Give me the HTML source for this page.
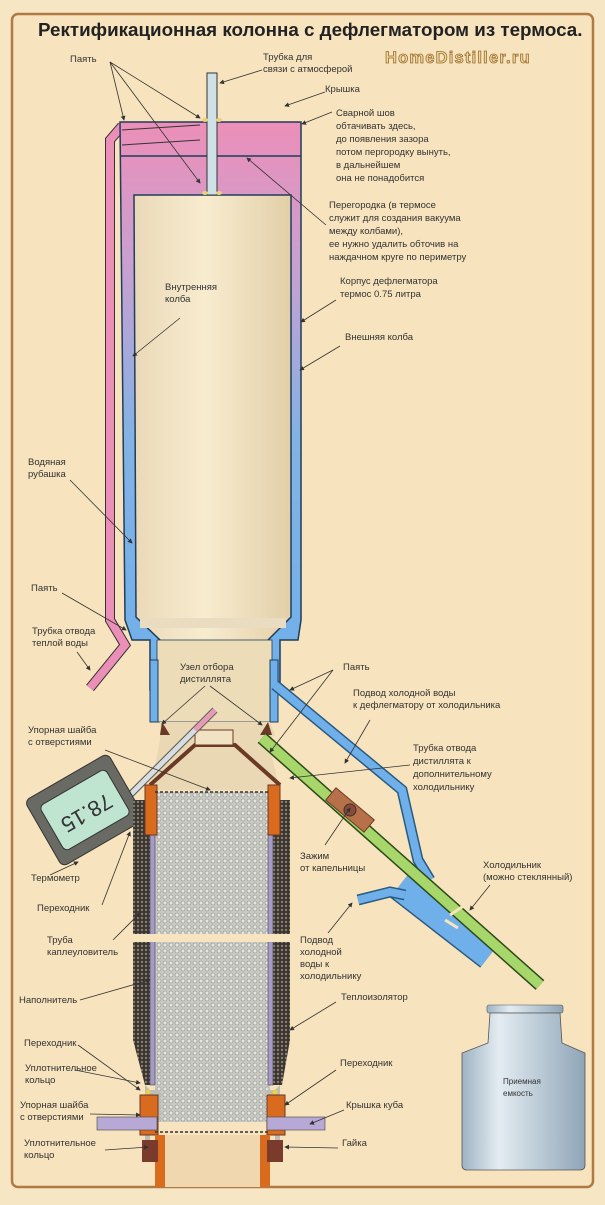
<!DOCTYPE html>
<html><head><meta charset="utf-8"><style>
body{margin:0;width:605px;height:1200px;overflow:hidden;background:#f6e6c4}
svg text{font-family:"Liberation Sans",sans-serif;font-size:9.5px;fill:#333}
</style></head><body>
<svg width="605" height="1200" viewBox="0 0 605 1200" xmlns="http://www.w3.org/2000/svg">
<defs>
<linearGradient id="body" x1="0" y1="0" x2="0" y2="1"><stop offset="0" stop-color="#ec8fb8"/><stop offset="0.25" stop-color="#c9a0d0"/><stop offset="0.55" stop-color="#84b2e4"/><stop offset="1" stop-color="#6fb0ea"/></linearGradient>
<linearGradient id="inner" x1="0" y1="0" x2="1" y2="0"><stop offset="0" stop-color="#ead9b8"/><stop offset="0.45" stop-color="#f8eccf"/><stop offset="1" stop-color="#e2cfa8"/></linearGradient>
<linearGradient id="can" x1="0" y1="0" x2="1" y2="0"><stop offset="0" stop-color="#9fb3c3"/><stop offset="0.3" stop-color="#e3ecf2"/><stop offset="1" stop-color="#8fa5b7"/></linearGradient>
<pattern id="pack" width="6" height="6" patternUnits="userSpaceOnUse"><rect width="6" height="6" fill="#c9c9c3"/><circle cx="3" cy="3" r="2" fill="#e6e6e0" stroke="#8d8d88" stroke-width="0.6"/></pattern>
<pattern id="ins" width="4" height="4" patternUnits="userSpaceOnUse"><rect width="4" height="4" fill="#3a3530"/><circle cx="2" cy="2" r="1.2" fill="#8a7e6e"/></pattern>
<marker id="ar" markerWidth="6" markerHeight="6" refX="5" refY="3" orient="auto"><path d="M0,0 L6,3 L0,6z" fill="#333"/></marker>
</defs>
<rect x="12" y="14" width="581" height="1173" rx="6" fill="#f7e3bd" stroke="#b07a45" stroke-width="2.5"/>
<text x="38" y="36" style="font-size:18.8px;font-weight:bold;fill:#222">Ректификационная колонна с дефлегматором из термоса.</text>
<text x="385" y="63" style="font-size:16.5px;font-weight:bold;fill:#f0d79a;stroke:#9a6e34;stroke-width:0.8;letter-spacing:1.2px">HomeDistiller.ru</text>

<path d="M122,126 L110,140 L110,620 L125,645 L90,688" fill="none" stroke="#333" stroke-width="10"/>
<path d="M122,126 L110,140 L110,620 L125,645 L90,688" fill="none" stroke="#ec8fb8" stroke-width="8"/>
<path d="M120,122 L301,122 L301,620 L298,640 L280,640 L280,690 L150,690 L150,640 L132,640 L125,620 Z" fill="url(#body)" stroke="#1f3d5c" stroke-width="1.5"/>
<line x1="120" y1="156" x2="301" y2="156" stroke="#1f3d5c" stroke-width="1.5"/>
<path d="M122,130 L200,125 M122,145 L200,140" stroke="#333" stroke-width="1"/>
<path d="M134,195 L291,195 L291,617 L268,640 L268,660 L160,660 L160,640 L136,617 Z" fill="url(#inner)" stroke="#1f3d5c" stroke-width="1.5"/>
<rect x="140" y="618" width="146" height="10" fill="#e9dcc0"/>
<rect x="157" y="640" width="115" height="82" fill="#eddcb8"/>
<rect x="157" y="640" width="115" height="82" fill="none" stroke="#1f3d5c" stroke-width="0.8"/>
<rect x="150" y="660" width="8" height="62" fill="#6fb0ea" stroke="#1f3d5c"/>
<rect x="270" y="660" width="8" height="62" fill="#6fb0ea" stroke="#1f3d5c"/>
<rect x="207" y="73" width="10" height="122" fill="#cfe0e6" stroke="#333" stroke-width="1"/>
<ellipse cx="205" cy="120" rx="3" ry="2" fill="#e9d27a"/><ellipse cx="219" cy="120" rx="3" ry="2" fill="#e9d27a"/>
<ellipse cx="205" cy="193" rx="3" ry="2" fill="#e9d27a"/><ellipse cx="219" cy="193" rx="3" ry="2" fill="#e9d27a"/>
<path d="M160,722 L270,722 L275,735 L268,740 L280,790 L150,790 L160,740 Z" fill="#ead8b5"/>
<path d="M150,785 L195,745 L235,745 L280,785" fill="none" stroke="#6b3a24" stroke-width="4"/>
<rect x="195" y="730" width="38" height="15" fill="#f0e2c3" stroke="#6b3a24" stroke-width="1"/>
<path d="M162,722 L170,735 L160,735Z M268,722 L260,735 L272,735Z" fill="#6b3a24"/>
<line x1="110" y1="815" x2="215" y2="710" stroke="#555" stroke-width="7"/>
<line x1="110" y1="815" x2="215" y2="710" stroke="#d8dde0" stroke-width="5"/>
<line x1="195" y1="730" x2="215" y2="710" stroke="#e79ab4" stroke-width="5"/>
<g transform="translate(85,810) rotate(-30)">
<rect x="-48" y="-38" width="96" height="76" rx="6" fill="#6a6a64" stroke="#333"/>
<rect x="-38" y="-26" width="76" height="52" rx="5" fill="#bfe4cf" stroke="#333"/>
<text x="0" y="8" transform="rotate(180 0 2)" text-anchor="middle" style="font-size:22px;fill:#333">78.15</text>
</g>
<rect x="133" y="800" width="25" height="240" fill="url(#ins)"/>
<rect x="270" y="800" width="20" height="240" fill="url(#ins)"/>
<path d="M133,1040 L145,1085 L158,1085 L158,1040Z M270,1040 L270,1085 L282,1085 L290,1040Z" fill="url(#ins)"/>
<rect x="155" y="792" width="115" height="330" fill="url(#pack)"/>
<rect x="150" y="795" width="5" height="290" fill="#a59bc9" stroke="#444" stroke-width="0.6"/>
<rect x="268" y="795" width="5" height="290" fill="#a59bc9" stroke="#444" stroke-width="0.6"/>
<rect x="130" y="934" width="165" height="8" fill="#f7e3bd"/>
<rect x="145" y="785" width="12" height="50" fill="#d96b1f" stroke="#6b3a24"/>
<rect x="268" y="785" width="12" height="50" fill="#d96b1f" stroke="#6b3a24"/>
<line x1="155" y1="792" x2="270" y2="792" stroke="#333" stroke-dasharray="3,2" stroke-width="1.5"/>
<path d="M145,1085 L150,1090 L160,1090 L160,1120 L150,1120 L150,1140 L145,1140Z" fill="#bdbdb3"/>
<path d="M280,1085 L275,1090 L268,1090 L268,1120 L275,1120 L275,1140 L280,1140Z" fill="#bdbdb3"/>
<rect x="140" y="1095" width="18" height="40" fill="#d96b1f" stroke="#6b3a24"/>
<rect x="267" y="1095" width="18" height="40" fill="#d96b1f" stroke="#6b3a24"/>
<rect x="155" y="1135" width="10" height="52" fill="#d96b1f"/>
<rect x="260" y="1135" width="10" height="52" fill="#d96b1f"/>
<rect x="165" y="1135" width="95" height="52" fill="#f0d7b0"/>
<line x1="155" y1="1132" x2="270" y2="1132" stroke="#333" stroke-dasharray="3,2" stroke-width="1.5"/>
<rect x="97" y="1117" width="60" height="13" fill="#b7a8d6" stroke="#444" stroke-width="0.6"/>
<rect x="267" y="1117" width="58" height="13" fill="#b7a8d6" stroke="#444" stroke-width="0.6"/>
<rect x="142" y="1140" width="16" height="22" fill="#7a3a2c"/>
<rect x="267" y="1140" width="16" height="22" fill="#7a3a2c"/>
<circle cx="148" cy="1092" r="2.5" fill="#e7d24a"/><circle cx="275" cy="1092" r="2.5" fill="#e7d24a"/>
<path d="M275,685 L402,790 L418,860 L430,880" fill="none" stroke="#2a5a80" stroke-width="11"/>
<path d="M275,685 L402,790 L418,860 L430,880" fill="none" stroke="#6fb0ea" stroke-width="8"/>
<path d="M400,885 L490,955" stroke="#2a5a80" stroke-width="32"/>
<path d="M400,885 L490,955" stroke="#6fb0ea" stroke-width="29"/>
<path d="M358,900 L390,892 L405,895" fill="none" stroke="#2a5a80" stroke-width="11"/>
<path d="M358,900 L390,892 L405,895" fill="none" stroke="#6fb0ea" stroke-width="8"/>
<path d="M262,738 L540,985" stroke="#2c4a1a" stroke-width="13"/>
<path d="M262,738 L540,985" stroke="#a7d66a" stroke-width="10"/>
<path d="M450,915 L465,905 M445,920 L458,928" stroke="#f7e3bd" stroke-width="3"/>
<g transform="translate(350,810) rotate(40)"><rect x="-25" y="-8" width="50" height="16" fill="#b7714a" stroke="#6b3a24"/><circle cx="0" cy="0" r="6" fill="#8a4a34" stroke="#333"/></g>
<rect x="487" y="1005" width="76" height="8" rx="2" fill="url(#can)" stroke="#555" stroke-width="0.6"/>
<path d="M490,1013 L560,1013 L562,1043 L585,1053 L585,1165 Q585,1170 580,1170 L467,1170 Q462,1170 462,1165 L462,1053 L488,1043Z" fill="url(#can)" stroke="#555" stroke-width="0.8"/>
<text x="503" y="1084" style="font-size:8px">Приемная</text><text x="503" y="1096" style="font-size:8px">емкость</text>

<g stroke="#333" stroke-width="0.8" fill="none" marker-end="url(#ar)">
<path d="M110,62 L124,120"/><path d="M110,62 L200,118"/><path d="M110,62 L200,183"/>
<path d="M262,70 L220,83"/><path d="M325,92 L285,106"/><path d="M332,112 L302,124"/>
<path d="M326,225 L247,158"/><path d="M336,300 L301,322"/><path d="M180,318 L133,356"/>
<path d="M340,346 L300,370"/><path d="M70,480 L132,543"/><path d="M62,593 L126,630"/>
<path d="M77,652 L90,670"/><path d="M205,686 L162,724"/><path d="M210,686 L262,725"/>
<path d="M333,670 L290,690"/><path d="M333,670 L270,752"/><path d="M370,720 L345,763"/>
<path d="M410,765 L290,778"/><path d="M105,750 L210,790"/><path d="M325,845 L350,808"/>
<path d="M490,885 L470,910"/><path d="M50,875 L78,862"/><path d="M102,905 L130,832"/>
<path d="M113,940 L140,913"/><path d="M328,933 L352,903"/><path d="M80,1000 L150,980"/>
<path d="M336,1002 L290,1030"/><path d="M78,1045 L140,1090"/><path d="M75,1070 L140,1083"/>
<path d="M336,1070 L285,1105"/><path d="M90,1114 L140,1115"/><path d="M344,1110 L310,1124"/>
<path d="M105,1150 L148,1147"/><path d="M338,1148 L285,1147"/>
</g>

<text x="70" y="62">Паять</text>
<text x="263" y="60">Трубка для</text><text x="263" y="72">связи с атмосферой</text>
<text x="325" y="92">Крышка</text>
<text x="336" y="116">Сварной шов</text><text x="336" y="129">обтачивать здесь,</text><text x="336" y="142">до появления зазора</text><text x="336" y="155">потом пергородку вынуть,</text><text x="336" y="168">в дальнейшем</text><text x="336" y="181">она не понадобится</text>
<text x="329" y="208">Перегородка (в термосе</text><text x="329" y="221">служит для создания вакуума</text><text x="329" y="234">между колбами),</text><text x="329" y="247">ее нужно удалить обточив на</text><text x="329" y="260">наждачном круге по периметру</text>
<text x="340" y="284">Корпус дефлегматора</text><text x="340" y="297">термос 0.75 литра</text>
<text x="165" y="290">Внутренняя</text><text x="165" y="302">колба</text>
<text x="345" y="340">Внешняя колба</text>
<text x="28" y="465">Водяная</text><text x="28" y="477">рубашка</text>
<text x="31" y="591">Паять</text>
<text x="32" y="634">Трубка отвода</text><text x="32" y="646">теплой воды</text>
<text x="180" y="670">Узел отбора</text><text x="180" y="682">дистиллята</text>
<text x="343" y="670">Паять</text>
<text x="353" y="696">Подвод холодной воды</text><text x="353" y="708">к дефлегматору от холодильника</text>
<text x="28" y="733">Упорная шайба</text><text x="28" y="745">с отверстиями</text>
<text x="413" y="751">Трубка отвода</text><text x="413" y="764">дистиллята к</text><text x="413" y="777">дополнительному</text><text x="413" y="790">холодильнику</text>
<text x="300" y="859">Зажим</text><text x="300" y="871">от капельницы</text>
<text x="483" y="868">Холодильник</text><text x="483" y="880">(можно стеклянный)</text>
<text x="31" y="881">Термометр</text>
<text x="37" y="911">Переходник</text>
<text x="47" y="943">Труба</text><text x="47" y="955">каплеуловитель</text>
<text x="300" y="943">Подвод</text><text x="300" y="955">холодной</text><text x="300" y="967">воды к</text><text x="300" y="979">холодильнику</text>
<text x="19" y="1003">Наполнитель</text>
<text x="341" y="1000">Теплоизолятор</text>
<text x="24" y="1046">Переходник</text>
<text x="25" y="1071">Уплотнительное</text><text x="25" y="1083">кольцо</text>
<text x="340" y="1066">Переходник</text>
<text x="20" y="1108">Упорная шайба</text><text x="20" y="1120">с отверстиями</text>
<text x="346" y="1108">Крышка куба</text>
<text x="24" y="1146">Уплотнительное</text><text x="24" y="1158">кольцо</text>
<text x="342" y="1146">Гайка</text>
</svg>
</body></html>
